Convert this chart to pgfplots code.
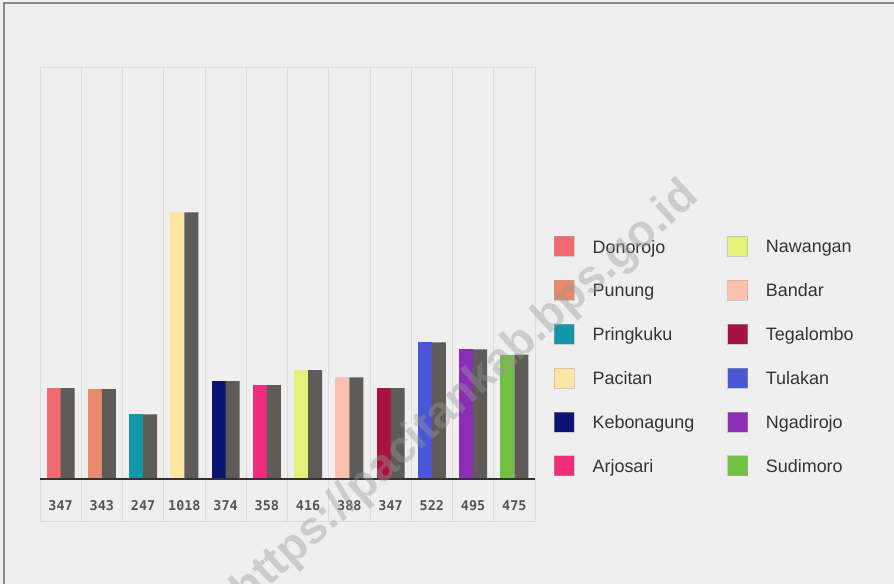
\documentclass[border=0pt]{standalone}
\usepackage{fontspec}
\setmainfont{Liberation Sans}
\newfontfamily\monof{DejaVu Sans Mono}
\usepackage{pgfplots}
\pgfplotsset{compat=1.18}
\definecolor{bgc}{HTML}{EFEFEF}
\definecolor{gridc}{HTML}{DCDCDC}
\definecolor{bordc}{HTML}{8A8A8A}
\definecolor{shadc}{HTML}{5E5B59}
\definecolor{basec}{HTML}{333333}
\definecolor{labc}{HTML}{555555}
\definecolor{legc}{HTML}{333333}
\definecolor{cDon}{HTML}{EF6B6E}
\definecolor{cPun}{HTML}{E8896A}
\definecolor{cPri}{HTML}{1496A8}
\definecolor{cPac}{HTML}{FDE6A2}
\definecolor{cKeb}{HTML}{0B1470}
\definecolor{cArj}{HTML}{F02D7A}
\definecolor{cNaw}{HTML}{E4F27A}
\definecolor{cBan}{HTML}{FCC0AE}
\definecolor{cTeg}{HTML}{A8123E}
\definecolor{cTul}{HTML}{4A56D6}
\definecolor{cNga}{HTML}{8A2EB5}
\definecolor{cSud}{HTML}{72C043}
\begin{document}
\begin{tikzpicture}[x=1bp,y=1bp]
\useasboundingbox (0,0) rectangle (894,584);
\fill[bgc] (0,0) rectangle (894,584);
\draw[bordc, line width=1.5bp] (4,0) -- (4,581) -- (894,581);
\begin{axis}[
  at={(40bp,105bp)}, anchor=south west, scale only axis,
  width=495bp, height=412bp,
  xmin=-0.5, xmax=11.5, ymin=0, ymax=1573,
  axis line style={draw=gridc, line width=0.8bp},
  xtick={0,...,11},
  xticklabels={347,343,247,1018,374,358,416,388,347,522,495,475},
  xticklabel style={font=\monof\bfseries\fontsize{13.5}{13.5}\selectfont, text=labc, anchor=center, yshift=-27bp},
  major tick length=0pt, minor tick length=0pt,
  minor xtick={0.5,1.5,...,10.5},
  minor x grid style={draw=gridc, line width=0.8bp},
  xminorgrids=true,
  ytick=\empty,
  clip=false,
  legend columns=2,
  legend cell align=left,
  legend image code/.code={\fill[#1] (0bp,-9bp) rectangle (20bp,11bp);
                           \draw[draw=black!35, draw opacity=0.5, line width=0.6bp] (0bp,-9bp) rectangle (20bp,11bp);},
  legend style={at={(1.0384,0.5898)}, anchor=north west, draw=none, fill=none,
    inner sep=0pt, outer sep=0pt,
    font=\fontsize{18}{18}\selectfont, text=legc,
    row sep=23.3bp,
    nodes={inner sep=0pt, outer sep=0pt},
    /tikz/every odd column/.append style={column sep=18bp},
    /tikz/every even column/.append style={column sep=33bp}},
]
\addplot[ybar, bar width=14bp, bar shift=-7bp, fill=cDon, draw=none] coordinates {(0,347)};
\addlegendentry{Donorojo}
\addplot[ybar, bar width=14bp, bar shift=-7bp, fill=cNaw, draw=none] coordinates {(6,416)};
\addlegendentry{Nawangan}
\addplot[ybar, bar width=14bp, bar shift=-7bp, fill=cPun, draw=none] coordinates {(1,343)};
\addlegendentry{Punung}
\addplot[ybar, bar width=14bp, bar shift=-7bp, fill=cBan, draw=none] coordinates {(7,388)};
\addlegendentry{Bandar}
\addplot[ybar, bar width=14bp, bar shift=-7bp, fill=cPri, draw=none] coordinates {(2,247)};
\addlegendentry{Pringkuku}
\addplot[ybar, bar width=14bp, bar shift=-7bp, fill=cTeg, draw=none] coordinates {(8,347)};
\addlegendentry{Tegalombo}
\addplot[ybar, bar width=14bp, bar shift=-7bp, fill=cPac, draw=none] coordinates {(3,1018)};
\addlegendentry{Pacitan}
\addplot[ybar, bar width=14bp, bar shift=-7bp, fill=cTul, draw=none] coordinates {(9,522)};
\addlegendentry{Tulakan}
\addplot[ybar, bar width=14bp, bar shift=-7bp, fill=cKeb, draw=none] coordinates {(4,374)};
\addlegendentry{Kebonagung}
\addplot[ybar, bar width=14bp, bar shift=-7bp, fill=cNga, draw=none] coordinates {(10,495)};
\addlegendentry{Ngadirojo}
\addplot[ybar, bar width=14bp, bar shift=-7bp, fill=cArj, draw=none] coordinates {(5,358)};
\addlegendentry{Arjosari}
\addplot[ybar, bar width=14bp, bar shift=-7bp, fill=cSud, draw=none] coordinates {(11,475)};
\addlegendentry{Sudimoro}
\addplot[ybar, bar width=14bp, bar shift=7bp, fill=shadc, draw=none, forget plot] coordinates {
(0,347) (1,343) (2,247) (3,1018) (4,374) (5,358) (6,416) (7,388) (8,347) (9,522) (10,495) (11,475)};
\end{axis}
\foreach \i in {0,...,12} \draw[gridc, line width=0.8bp] (40+41.25*\i,63) -- (40+41.25*\i,105);
\draw[gridc, line width=0.8bp] (40,63) -- (535,63);
\draw[basec, line width=2bp] (40,105) -- (535,105);
\begin{scope}
\clip (0,0) rectangle (894,584);
\node[rotate=42, text=black!40, opacity=0.4, font=\bfseries\fontsize{46}{46}\selectfont] at (466,190) {https://pacitankab.bps.go.id};
\end{scope}
\end{tikzpicture}
\end{document}
